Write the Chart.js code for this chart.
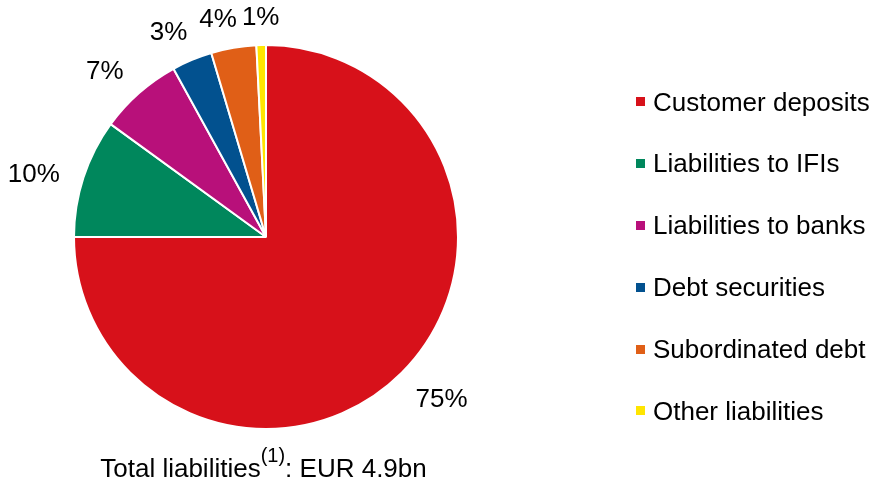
<!DOCTYPE html>
<html>
<head>
<meta charset="utf-8">
<script src="https://cdn.jsdelivr.net/npm/chart.js@4/dist/chart.umd.min.js"></script>
<style>
  html, body { margin: 0; padding: 0; background: #fff; }
  #wrap { position: relative; width: 876px; height: 482px; overflow: hidden; font-family: "Liberation Sans", Arial, sans-serif; color: #000; }
  #c { position: absolute; left: 0; top: 0; }
  .lg-box { position: absolute; width: 9px; height: 9px; }
  .lg-text { position: absolute; font-size: 26px; line-height: 30px; white-space: nowrap; }
  #caption { position: absolute; left: 0; width: 527px; top: 453px; text-align: center; font-size: 26px; line-height: 30px; white-space: nowrap; }
  #caption sup { font-size: 20px; line-height: 0; vertical-align: baseline; position: relative; top: -15px; }
</style>
</head>
<body>
<div id="wrap">
  <canvas id="c" width="876" height="482"></canvas>
  <div id="legend"></div>
  <div id="caption">Total liabilities<sup>(1)</sup>: EUR 4.9bn</div>
</div>
<script>
const categories = ["Customer deposits", "Liabilities to IFIs", "Liabilities to banks", "Debt securities", "Subordinated debt", "Other liabilities"];
const shares = [75, 10, 7, 3.4, 3.8, 0.8];
const shareLabels = ["75%", "10%", "7%", "3%", "4%", "1%"];
const colors = ["#D7111A", "#00875C", "#B8107A", "#02518F", "#E05F17", "#FFE500"];

// HTML legend built from the arrays
const legendEl = document.getElementById('legend');
const legendTop = 101.8, legendStep = 61.8;
categories.forEach((name, i) => {
  const cy = legendTop + i * legendStep;
  const box = document.createElement('div');
  box.className = 'lg-box';
  box.style.left = '636px';
  box.style.top = (cy - 4.5) + 'px';
  box.style.background = colors[i];
  legendEl.appendChild(box);
  const t = document.createElement('div');
  t.className = 'lg-text';
  t.style.left = '653px';
  t.style.top = (cy - 15.2) + 'px';
  t.textContent = name;
  legendEl.appendChild(t);
});

const outsideLabels = {
  id: 'outsideLabels',
  afterDatasetsDraw(chart) {
    const ctx = chart.ctx;
    const meta = chart.getDatasetMeta(0);
    ctx.save();
    ctx.font = '26px "Liberation Sans", Arial, sans-serif';
    ctx.fillStyle = '#000';
    ctx.textAlign = 'center';
    ctx.textBaseline = 'alphabetic';
    const capH = 26 * 0.716;
    const gap = 5;
    let prev = null;
    meta.data.forEach((arc, i) => {
      const p = arc.getProps(['x', 'y', 'startAngle', 'endAngle', 'outerRadius'], true);
      const mid = (p.startAngle + p.endAngle) / 2 - 0.045;
      const cx = Math.cos(mid), sy = Math.sin(mid);
      const txt = shareLabels[i];
      const w = ctx.measureText(txt).width;
      const r = p.outerRadius + 22 + Math.abs(cx) * w / 2 + Math.abs(sy) * 7;
      let lx = p.x + cx * r;
      const ly = p.y + sy * r;
      // simple collision avoidance with the previous label
      if (prev) {
        const overlapY = Math.abs(ly - prev.y) < capH + 4;
        const minX = prev.x + prev.w / 2 + gap + w / 2;
        if (overlapY && lx < minX && lx > prev.x - 1) lx = minX;
      }
      ctx.fillText(txt, lx, ly + capH / 2);
      prev = { x: lx, y: ly, w: w };
    });
    ctx.restore();
  }
};

new Chart(document.getElementById('c'), {
  type: 'pie',
  data: {
    labels: categories,
    datasets: [{
      data: shares,
      backgroundColor: colors,
      borderColor: '#ffffff',
      borderWidth: 2,
      hoverOffset: 0
    }]
  },
  options: {
    responsive: false,
    animation: false,
    events: [],
    layout: { padding: { left: 73, right: 417, top: 44, bottom: 52 } },
    plugins: {
      legend: { display: false },
      tooltip: { enabled: false }
    }
  },
  plugins: [outsideLabels]
});
</script>
</body>
</html>
